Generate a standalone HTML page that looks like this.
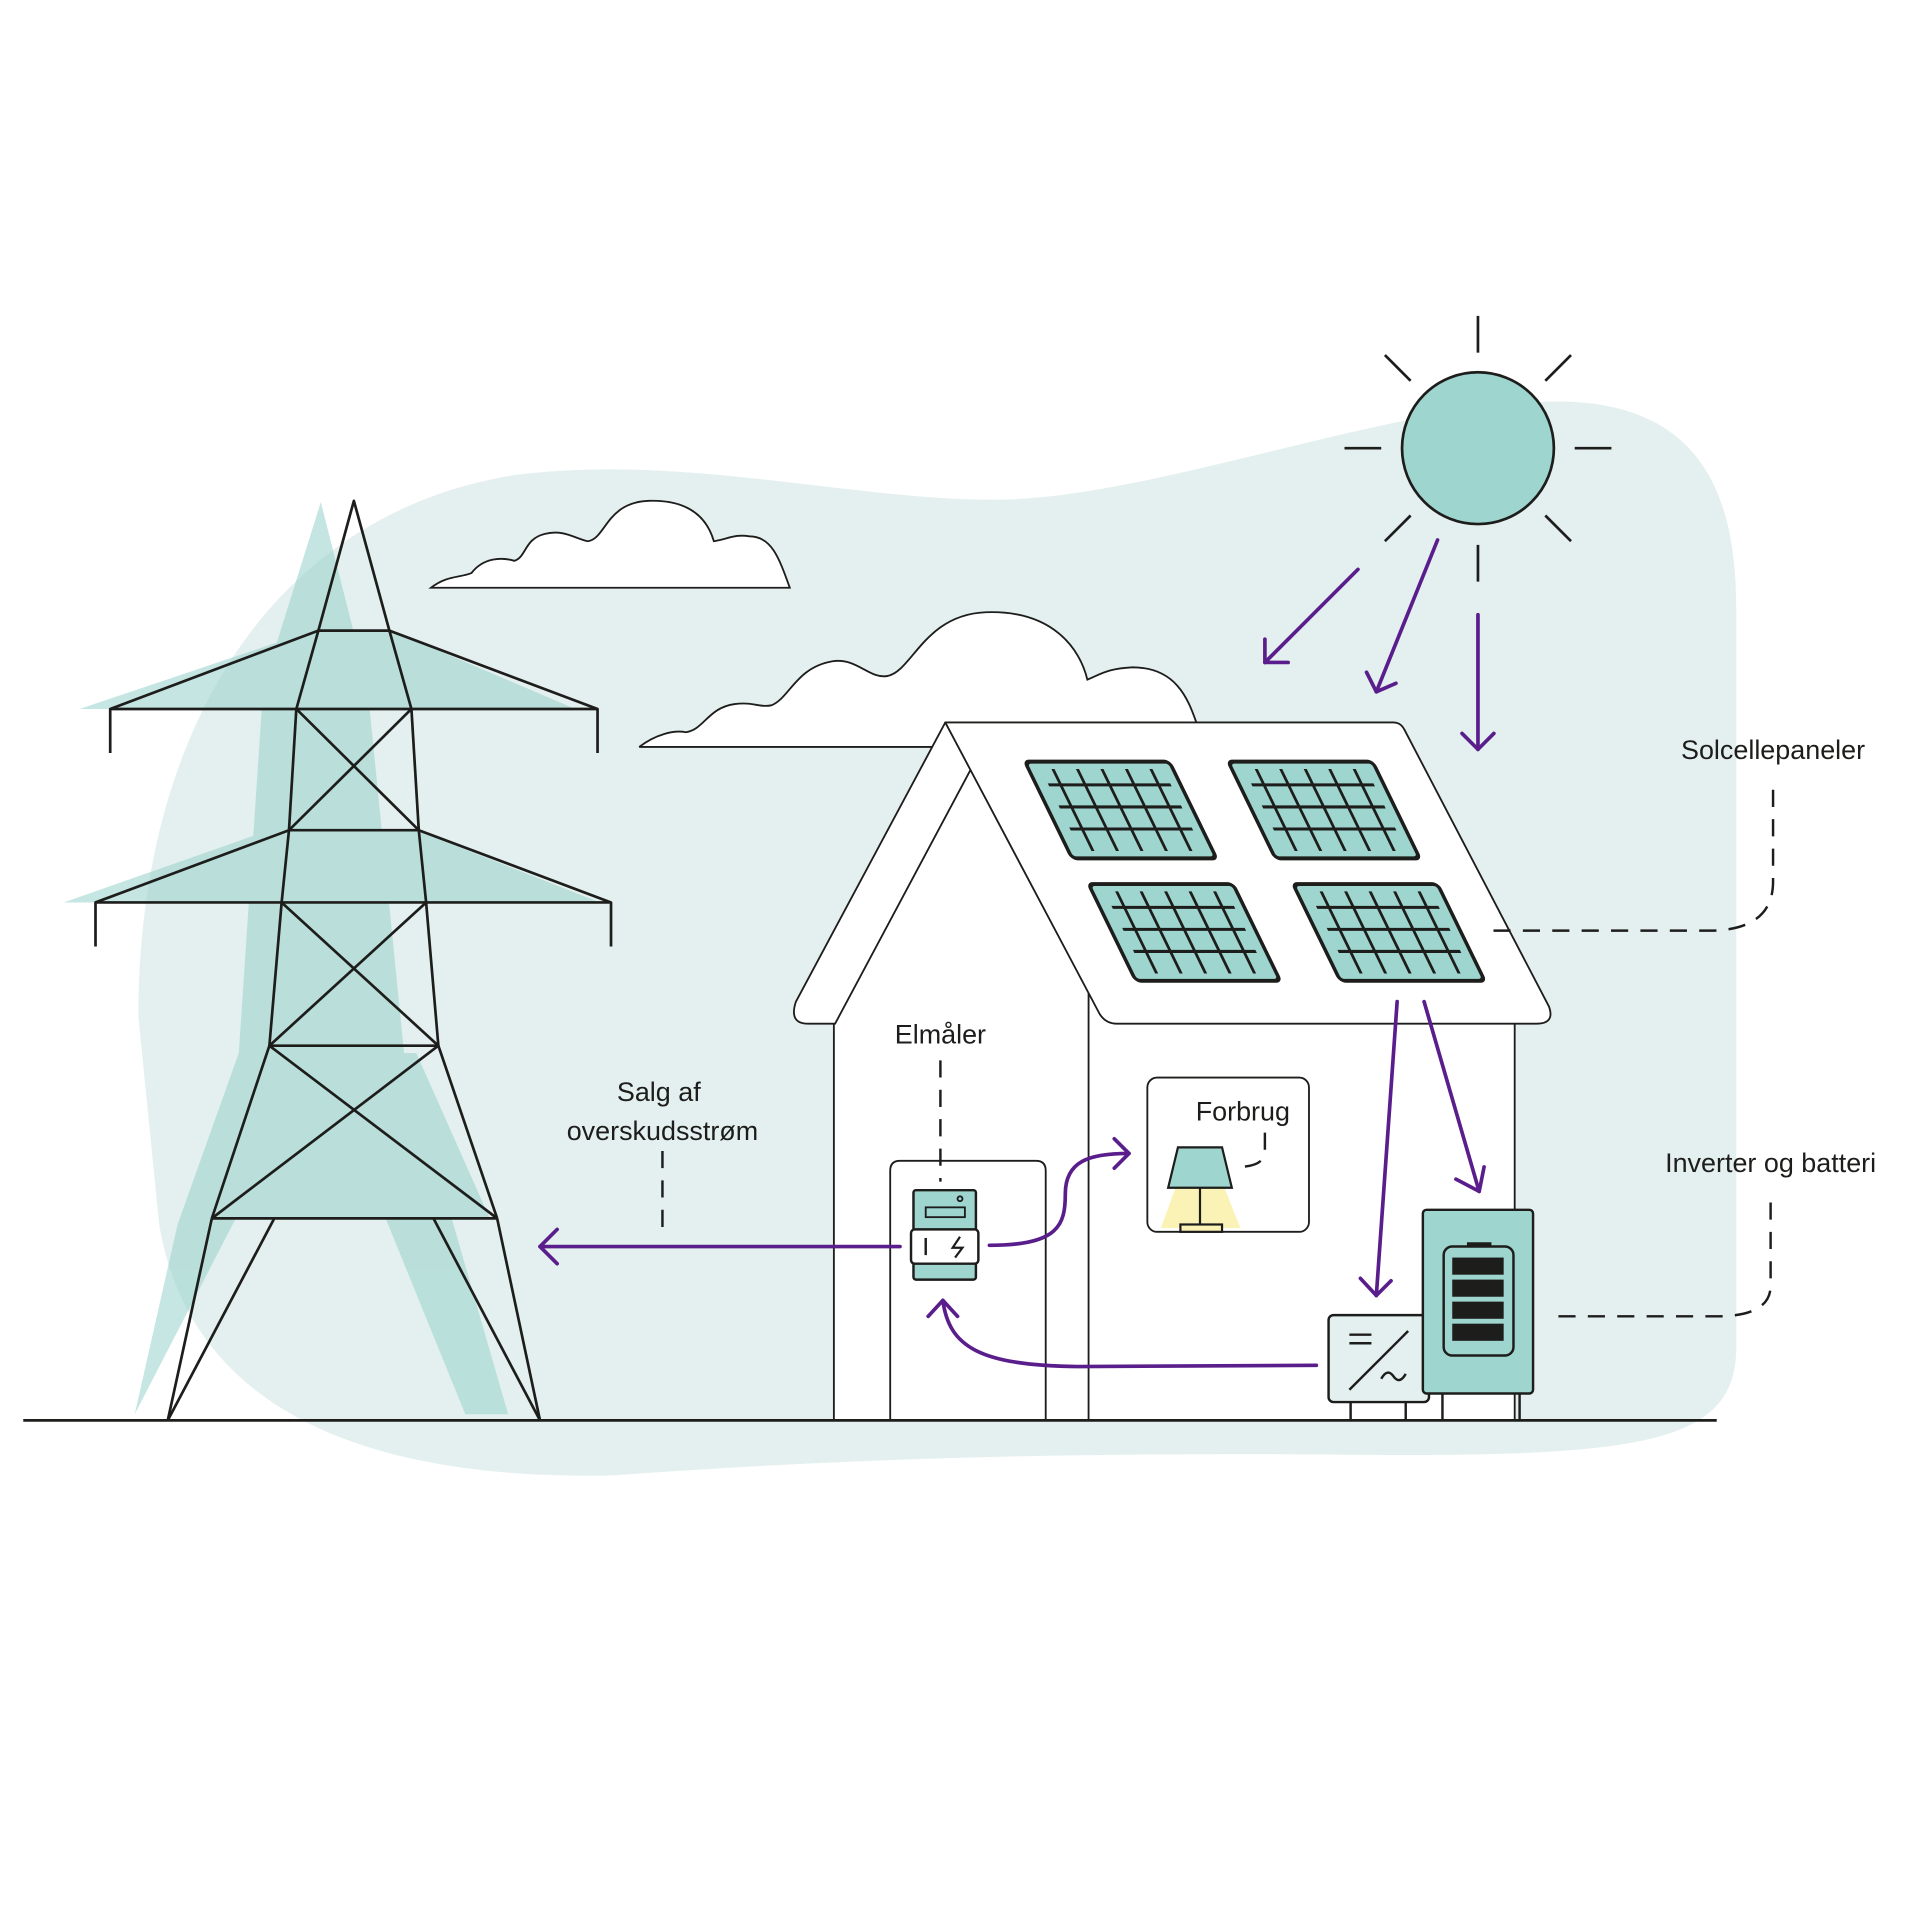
<!DOCTYPE html>
<html><head><meta charset="utf-8"><style>html,body{margin:0;padding:0;background:#fff}svg{display:block}text{font-family:"Liberation Sans",sans-serif;font-size:22px;fill:#1d1d1b}</style></head><body>
<svg width="1920" height="1920" viewBox="0 0 1568 1568" xmlns="http://www.w3.org/2000/svg">
<defs><g id="grid">
<rect x="0" y="0" width="118" height="79" rx="4" fill="#9fd5cf" stroke="#1d1d1b" stroke-width="3.2"/>
<g stroke="#1d1d1b" stroke-width="2.5">
<line x1="20" y1="6" x2="20" y2="73"/><line x1="40" y1="6" x2="40" y2="73"/><line x1="60" y1="6" x2="60" y2="73"/><line x1="80" y1="6" x2="80" y2="73"/><line x1="100" y1="6" x2="100" y2="73"/>
<line x1="10" y1="19" x2="110" y2="19"/><line x1="10" y1="37" x2="110" y2="37"/><line x1="10" y1="55" x2="110" y2="55"/></g></g></defs>
<path d="M113 830 C113 600 220 420 420 388 C560 370 700 410 820 408 C950 405 1150 325 1280 328 C1400 332 1418 420 1418 500 L1418 1100 C1418 1180 1340 1190 1100 1188 C900 1186 700 1190 500 1205 C250 1210 150 1120 130 1000 Z" fill="#e4f0ef"/>
<g fill="#9fd5cf" opacity="0.6">
<polygon points="262,410 300,560 330,860 415,1155 380,1155 260,860 190,1000 110,1155 145,1000 195,860 215,560"/>
<polygon points="65,579 255,515 320,515 470,579"/>
<polygon points="52,737 220,678 340,678 490,737"/>
<polygon points="150,995 200,860 340,860 400,995"/>
</g>
<g stroke="#1d1d1b" stroke-width="2.2" fill="none" stroke-linejoin="round">
<polyline points="260,515 289,409 318,515"/>
<line x1="260" y1="515" x2="318" y2="515"/>
<polyline points="90,615 90,579 260,515"/><polyline points="488,615 488,579 318,515"/>
<line x1="90" y1="579" x2="488" y2="579"/>
<line x1="260" y1="515" x2="242" y2="579"/><line x1="318" y1="515" x2="336" y2="579"/>
<line x1="242" y1="579" x2="236" y2="678"/><line x1="336" y1="579" x2="342" y2="678"/>
<line x1="242" y1="579" x2="342" y2="678"/><line x1="336" y1="579" x2="236" y2="678"/>
<line x1="236" y1="678" x2="342" y2="678"/>
<polyline points="78,773 78,737 236,678"/><polyline points="499,773 499,737 342,678"/>
<line x1="78" y1="737" x2="499" y2="737"/>
<line x1="236" y1="678" x2="230" y2="737"/><line x1="342" y1="678" x2="348" y2="737"/>
<line x1="230" y1="737" x2="220" y2="854"/><line x1="348" y1="737" x2="358" y2="854"/>
<line x1="230" y1="737" x2="358" y2="854"/><line x1="348" y1="737" x2="220" y2="854"/>
<line x1="220" y1="854" x2="358" y2="854"/>
<line x1="220" y1="854" x2="173" y2="995"/><line x1="358" y1="854" x2="406" y2="995"/>
<line x1="220" y1="854" x2="406" y2="995"/><line x1="358" y1="854" x2="173" y2="995"/>
<line x1="173" y1="995" x2="406" y2="995"/>
<line x1="173" y1="995" x2="137" y2="1160"/><line x1="406" y1="995" x2="441" y2="1160"/>
<line x1="224" y1="995" x2="137" y2="1160"/><line x1="354" y1="995" x2="441" y2="1160"/>
</g>
<g stroke="#1d1d1b" stroke-width="1.5" fill="#fff">
<path d="M352 480 C365 470 375 472 385 468 C395 455 410 455 420 458 C430 455 428 440 445 436 C460 432 470 440 480 442 C495 440 495 410 530 409 C565 408 578 425 583 442 C595 440 600 436 612 438 C630 438 636 455 645 480 Z"/>
<path d="M522 610 C535 600 550 596 560 598 C575 596 578 578 600 575 C615 573 620 578 630 576 C645 570 650 545 680 540 C700 537 710 555 725 552 C745 548 755 502 805 500 C860 498 882 530 888 555 C900 550 905 546 925 545 C960 545 970 570 977 590 L 780 610 Z" stroke="none"/>
<path d="M522 610 C535 600 550 596 560 598 C575 596 578 578 600 575 C615 573 620 578 630 576 C645 570 650 545 680 540 C700 537 710 555 725 552 C745 548 755 502 805 500 C860 498 882 530 888 555 C900 550 905 546 925 545 C960 545 970 570 977 590" fill="none"/>
<line x1="522" y1="610" x2="770" y2="610"/>
</g>
<circle cx="1207" cy="366" r="62" fill="#9fd5cf" stroke="#1d1d1b" stroke-width="2.2"/>
<g stroke="#1d1d1b" stroke-width="2.2">
<line x1="1207" y1="258" x2="1207" y2="288"/><line x1="1207" y1="445" x2="1207" y2="475"/>
<line x1="1098" y1="366" x2="1128" y2="366"/><line x1="1286" y1="366" x2="1316" y2="366"/>
<line x1="1131" y1="290" x2="1152" y2="311"/><line x1="1283" y1="290" x2="1262" y2="311"/>
<line x1="1131" y1="442" x2="1152" y2="421"/><line x1="1283" y1="442" x2="1262" y2="421"/>
</g>
<g stroke="#1d1d1b" stroke-width="1.5" fill="#fff" stroke-linejoin="round">
<rect x="681" y="800" width="556" height="360" stroke="none"/>
<polygon points="793,620 682,836 900,836" stroke="none"/>
<line x1="681" y1="836" x2="681" y2="1160"/><line x1="889" y1="810" x2="889" y2="1160"/><line x1="1237" y1="836" x2="1237" y2="1160"/>
<path d="M772 590 L650 818 Q644 836 660 836 L682 836 L793 628 Z"/>
<path d="M772 590 L1138 590 Q1144 590 1147 596 L1265 822 Q1270 836 1255 836 L912 836 Q903 836 898 828 Z"/>
<path d="M727 1160 L727 956 Q727 948 735 948 L846 948 Q854 948 854 956 L854 1160"/>
<rect x="937" y="880" width="132" height="126" rx="8"/>
</g>
<g transform="translate(837,622) skewX(26)"><use href="#grid"/></g>
<g transform="translate(1003,622) skewX(26)"><use href="#grid"/></g>
<g transform="translate(889,722) skewX(26)"><use href="#grid"/></g>
<g transform="translate(1056,722) skewX(26)"><use href="#grid"/></g>
<line x1="19" y1="1160" x2="1402" y2="1160" stroke="#1d1d1b" stroke-width="2.2"/>
<g stroke="#1d1d1b" stroke-width="2">
<rect x="746" y="972" width="51" height="73" rx="2" fill="#9fd5cf"/>
<rect x="744" y="1004" width="55" height="28" rx="3" fill="#fff"/>
<rect x="756" y="986" width="32" height="8" fill="none" stroke-width="1.5"/>
<circle cx="784" cy="979" r="2" fill="none" stroke-width="1.5"/>
<line x1="756" y1="1011" x2="756" y2="1025"/>
<path d="M784 1010 L778 1019 L786 1019 L780 1027" fill="none" stroke-width="1.8"/>
</g>
<polygon points="960,970 1000,970 1013,1003 948,1003" fill="#fbf3b6"/>
<g stroke="#1d1d1b" stroke-width="1.8">
<polygon points="962,937 998,937 1006,970 954,970" fill="#9fd5cf"/>
<line x1="980" y1="970" x2="980" y2="1000"/>
<rect x="964" y="1000" width="34" height="6" fill="#fbf3b6"/>
</g>
<g stroke="#1d1d1b" stroke-width="2" fill="none">
<line x1="1103" y1="1145" x2="1103" y2="1160"/><line x1="1148" y1="1145" x2="1148" y2="1160"/>
<line x1="1178" y1="1138" x2="1178" y2="1160"/><line x1="1241" y1="1138" x2="1241" y2="1160"/>
<rect x="1085" y="1074" width="82" height="71" rx="4" fill="#e4f0ef"/>
<line x1="1102" y1="1135" x2="1150" y2="1087"/>
<line x1="1102" y1="1090" x2="1120" y2="1090"/><line x1="1102" y1="1097" x2="1120" y2="1097"/>
<path d="M1128 1126 Q1133 1117 1138 1124 Q1143 1131 1148 1122"/>
<rect x="1162" y="988" width="90" height="150" rx="3" fill="#9fd5cf"/>
<rect x="1179" y="1018" width="57" height="89" rx="7"/>
<line x1="1198" y1="1016" x2="1218" y2="1016" stroke-width="3"/>
</g>
<g fill="#1d1d1b"><rect x="1186" y="1027" width="42" height="14"/><rect x="1186" y="1045" width="42" height="14"/><rect x="1186" y="1063" width="42" height="14"/><rect x="1186" y="1081" width="42" height="14"/></g>
<g stroke="#1d1d1b" stroke-width="2" fill="none" stroke-dasharray="14,10">
<line x1="768" y1="866" x2="768" y2="965"/>
<line x1="541" y1="940" x2="541" y2="1008"/>
<path d="M1033 925 L1033 940 Q1033 953 1010 953"/>
<path d="M1448 645 L1448 720 Q1448 758 1400 760 L1210 760"/>
<path d="M1446 982 L1446 1050 Q1446 1074 1405 1075 L1268 1075"/>
</g>
<g stroke="#5a1e8c" stroke-width="3" fill="none" stroke-linecap="round" stroke-linejoin="round">
<line x1="1109" y1="465" x2="1033" y2="541"/><polyline points="1033,522 1033,541 1052,541"/>
<line x1="1174" y1="441" x2="1124" y2="565"/><polyline points="1116,549 1124,565 1140,558"/>
<line x1="1207" y1="502" x2="1207" y2="612"/><polyline points="1194,599 1207,612 1220,599"/>
<line x1="1141" y1="818" x2="1124" y2="1058"/><polyline points="1111,1044 1124,1058 1136,1046"/>
<line x1="1163" y1="818" x2="1208" y2="973"/><polyline points="1189,963 1208,973 1212,953"/>
<line x1="735" y1="1018" x2="441" y2="1018"/><polyline points="455,1004 441,1018 455,1032"/>
<path d="M808 1017 C865 1017 870 1000 870 975 C870 948 890 942 922 942"/><polyline points="910,930 922,942 910,954"/>
<path d="M1075 1115 L880 1116 C800 1115 775 1100 770 1062"/><polyline points="758,1075 770,1062 782,1075"/>
</g>
<text x="768" y="852" text-anchor="middle">Elmåler</text>
<text x="538" y="899" text-anchor="middle">Salg af</text>
<text x="541" y="931" text-anchor="middle">overskudsstrøm</text>
<text x="1015" y="915" text-anchor="middle">Forbrug</text>
<text x="1448" y="620" text-anchor="middle">Solcellepaneler</text>
<text x="1446" y="957" text-anchor="middle">Inverter og batteri</text>
</svg>
</body></html>
